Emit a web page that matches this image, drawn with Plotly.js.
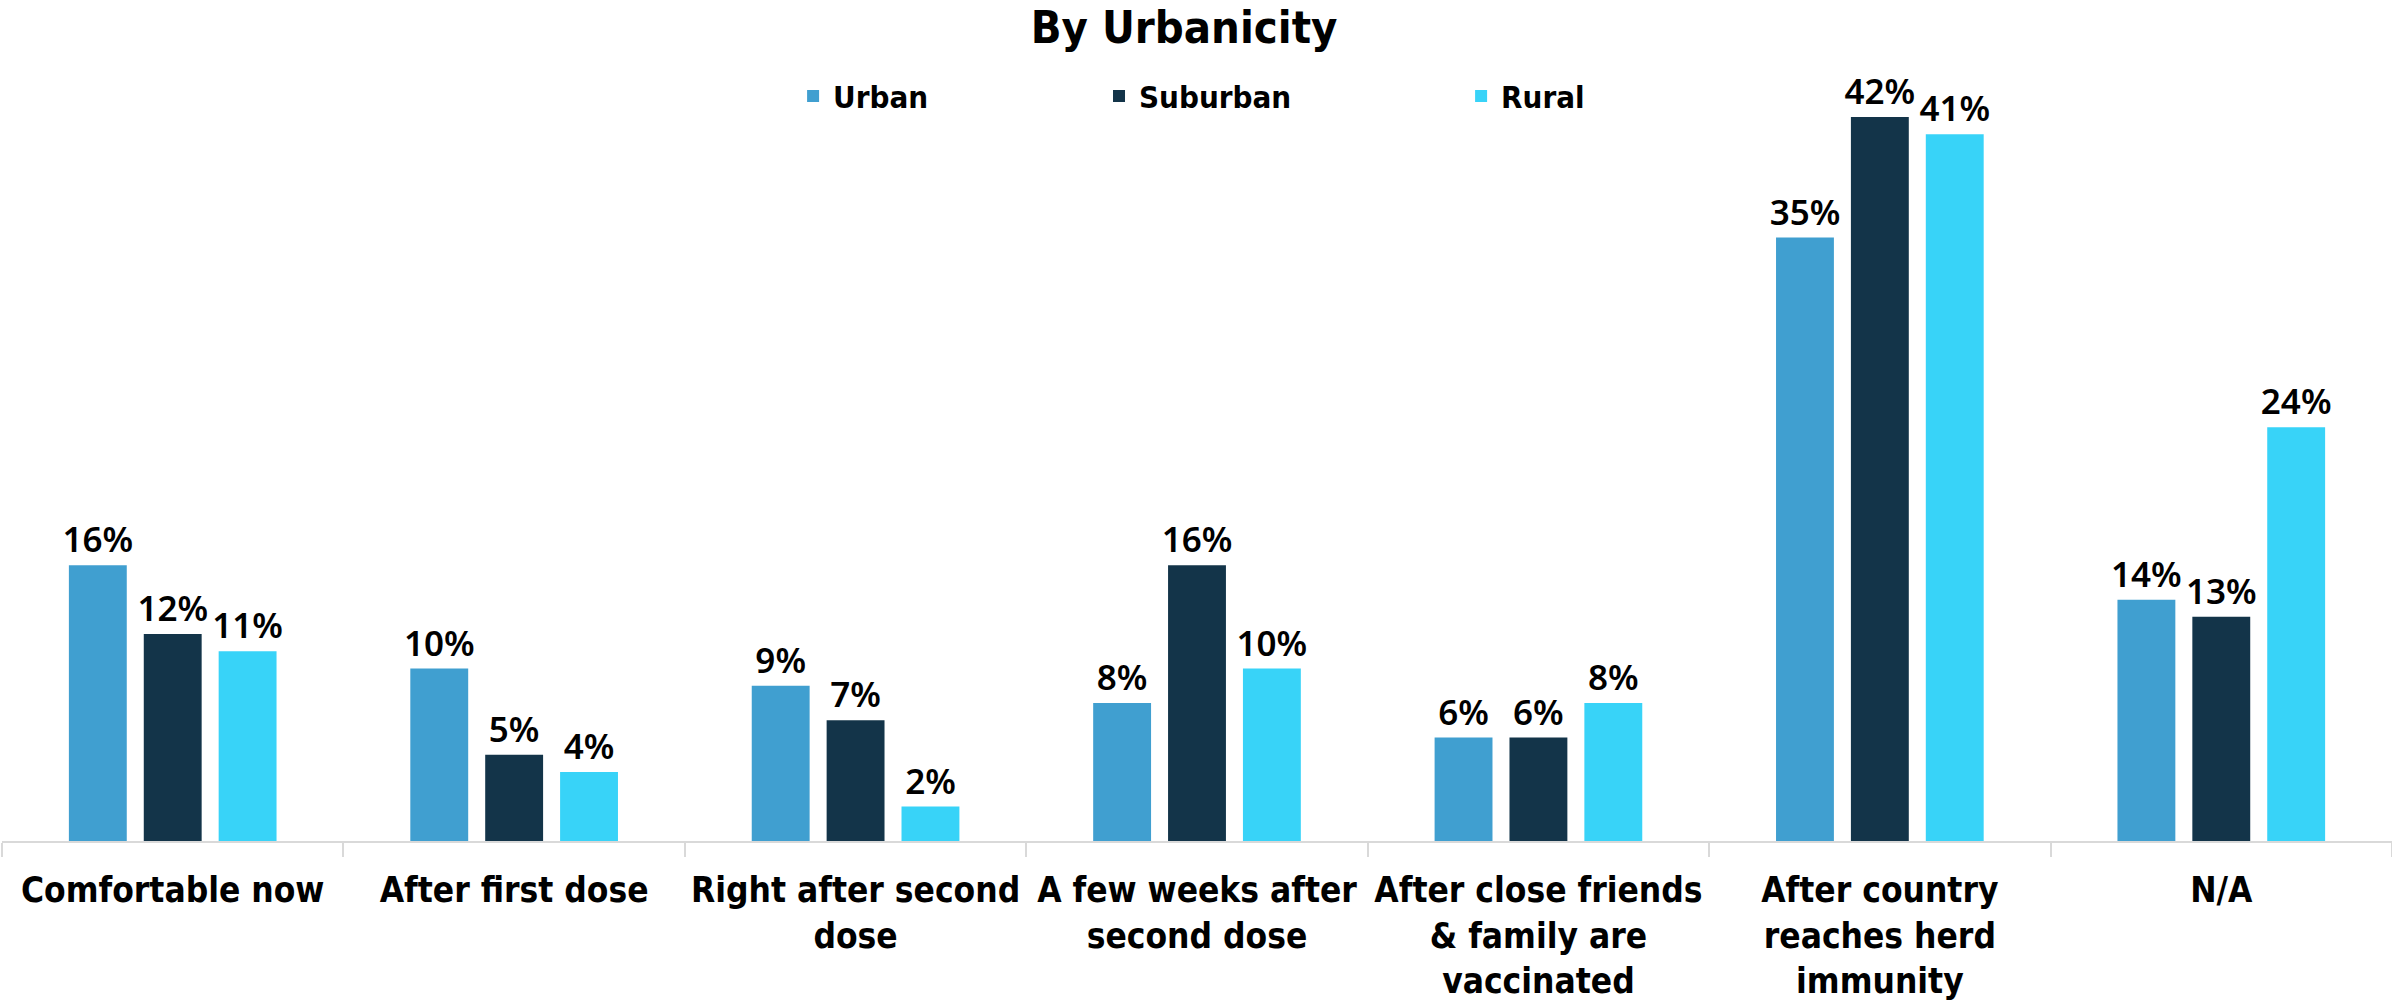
<!DOCTYPE html>
<html>
<head>
<meta charset="utf-8">
<script src="https://cdn.plot.ly/plotly-3.0.1.min.js"></script>
<style>html,body{margin:0;padding:0;background:#fff;}#chart{width:2392px;height:1004px;}</style>
</head>
<body>
<div id="chart"></div>
<script>
const categories = [
  "Comfortable now",
  "After first dose",
  "Right after second<br>dose",
  "A few weeks after<br>second dose",
  "After close friends<br>& family are<br>vaccinated",
  "After country<br>reaches herd<br>immunity",
  "N/A"
];
const urban = [16, 10, 9, 8, 6, 35, 14];
const suburban = [12, 5, 7, 16, 6, 42, 13];
const rural = [11, 4, 2, 10, 8, 41, 24];
const seriesNames = ["Urban", "Suburban", "Rural"];
const seriesColors = ["#409FD0", "#133449", "#38D3F8"];
const legendIds = ["legend", "legend2", "legend3"];
const legendX = [0.331, 0.459, 0.6105];

const labelFont = {family: "Noto Sans, Open Sans, sans-serif", size: 35, color: "#000", weight: 600};
function mk(i, vals) {
  return {
    type: "bar", name: seriesNames[i], x: categories, y: vals, legend: legendIds[i],
    marker: {color: seriesColors[i], line: {width: 0}},
    text: vals.map(v => v + "%"), textposition: "outside", constraintext: "none",
    textfont: labelFont, cliponaxis: false, hoverinfo: "skip"
  };
}
const data = [mk(0, urban), mk(1, suburban), mk(2, rural)];
const legendFont = {family: "DejaVu Sans Condensed, sans-serif", size: 31, color: "#000", weight: 600};
function lg(i) {
  return {orientation: "h", x: legendX[i], xanchor: "left", y: 1.005, yanchor: "middle",
          bgcolor: "rgba(0,0,0,0)", font: legendFont};
}
const layout = {
  width: 2392, height: 1004,
  paper_bgcolor: "#fff", plot_bgcolor: "#fff",
  margin: {l: 2, r: 0, t: 100, b: 163},
  barmode: "group", bargap: 0.342, bargroupgap: 0.227,
  title: {text: "By Urbanicity", x: 0.495, xanchor: "center", y: 0.973, yref: "container", yanchor: "middle",
          font: {family: "DejaVu Sans Condensed, sans-serif", size: 45, color: "#000", weight: 600}},
  showlegend: true,
  legend: lg(0), legend2: lg(1), legend3: lg(2),
  xaxis: {showline: true, linecolor: "#d9d9d9", linewidth: 2, ticks: "outside", tickson: "boundaries",
          ticklen: 14, tickcolor: "#d9d9d9", tickwidth: 2, showgrid: false, zeroline: false,
          tickangle: 0, ticklabelstandoff: 17,
          tickfont: {family: "DejaVu Sans Condensed, sans-serif", size: 35, color: "#000", weight: 600},
          automargin: false},
  yaxis: {range: [0, 42.98], visible: false, showgrid: false, zeroline: false, fixedrange: true}
};
Plotly.newPlot("chart", data, layout, {displayModeBar: false, staticPlot: true});
</script>
</body>
</html>
